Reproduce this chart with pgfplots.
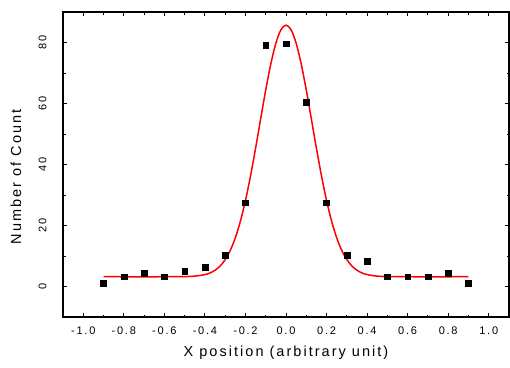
\documentclass[border=0pt]{standalone}
\usepackage{fontspec}
\setmainfont{Liberation Sans}
\newfontfamily\lblfont[LetterSpace=14]{Liberation Sans}
\newfontfamily\tickfont[LetterSpace=16]{Liberation Sans}
\usepackage{pgfplots}
\pgfplotsset{compat=1.18}
\begin{document}
\begin{tikzpicture}
\useasboundingbox (-63pt,-50pt) rectangle (447pt,317pt);
\begin{axis}[
  at={(0pt,0pt)}, anchor=south west,
  scale only axis, width=446pt, height=305pt,
  xmin=-1.1, xmax=1.1, ymin=-10, ymax=90,
  xtick={-1,-0.8,-0.6,-0.4,-0.2,0,0.2,0.4,0.6,0.8,1},
  xticklabels={-1.0,-0.8,-0.6,-0.4,-0.2,0.0,0.2,0.4,0.6,0.8,1.0},
  ytick={0,20,40,60,80},
  yticklabels={0,20,40,60,80},
  minor x tick num=1, minor y tick num=1,
  tick align=inside,
  major tick length=4pt, minor tick length=2.5pt,
  every tick/.style={black, line width=1pt},
  axis line style={line width=1.6pt},
  tick label style={font=\tickfont\fontsize{11}{13}\selectfont},
  yticklabel style={rotate=90, anchor=south},
  yticklabel shift=13pt,
  xticklabel shift=6pt,
  xlabel={X position (arbitrary unit)},
  ylabel={Number of Count},
  every axis x label/.style={at={(axis description cs:0.5,0)}, yshift=-36pt, anchor=center, font=\lblfont\fontsize{14.5}{17}\selectfont},
  every axis y label/.style={at={(axis description cs:0,0.46)}, xshift=-47pt, rotate=90, anchor=center, font=\lblfont\fontsize{14.5}{17}\selectfont},
]
\addplot[red, line width=1.5pt, smooth] coordinates {
(-0.9,3.2) (-0.6,3.2) (-0.5,3.25) (-0.45,3.40) (-0.4,3.90) (-0.375,4.44) (-0.35,5.33) (-0.325,6.72) (-0.3,8.82) (-0.275,11.83) (-0.25,15.97) (-0.225,21.41) (-0.2,28.2) (-0.175,36.27) (-0.15,45.35) (-0.125,54.95) (-0.1,64.42) (-0.075,72.95) (-0.05,79.77) (-0.025,84.18) (0,85.7)
(0.025,84.18) (0.05,79.77) (0.075,72.95) (0.1,64.42) (0.125,54.95) (0.15,45.35) (0.175,36.27) (0.2,28.2) (0.225,21.41) (0.25,15.97) (0.275,11.83) (0.3,8.82) (0.325,6.72) (0.35,5.33) (0.375,4.44) (0.4,3.90) (0.45,3.40) (0.5,3.25) (0.6,3.2) (0.9,3.2)
};
\addplot[only marks, mark=square*, mark size=2.9pt, black] coordinates {
(-0.9,1.2) (-0.8,3.2) (-0.7,4.3) (-0.6,3.2) (-0.5,5.1) (-0.4,6.4) (-0.3,10.2) (-0.2,27.5) (-0.1,79.0) (0.0,79.6) (0.1,60.3) (0.2,27.5) (0.3,10.3) (0.4,8.3) (0.5,3.2) (0.6,3.2) (0.7,3.2) (0.8,4.4) (0.9,1.2)
};
\end{axis}
\end{tikzpicture}
\end{document}
